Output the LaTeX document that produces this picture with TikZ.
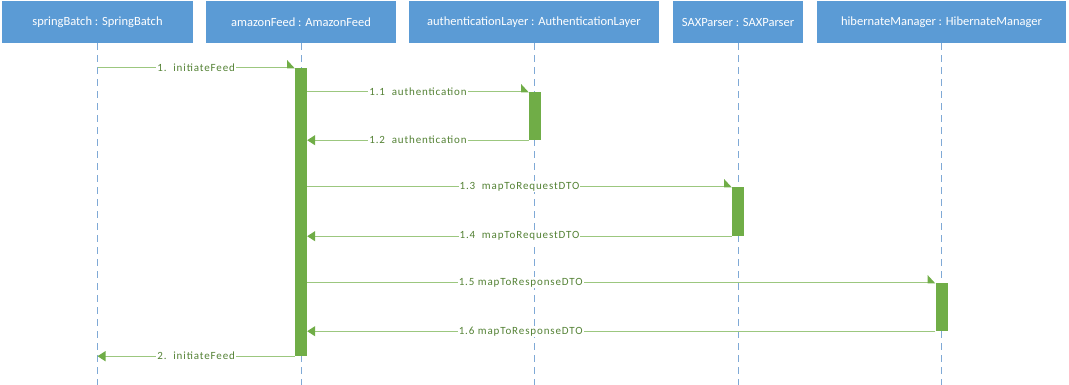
\documentclass[tikz,border=0pt]{standalone}
\usepackage{fontspec}
\setmainfont{Carlito}
\newfontfamily\msgfont[LetterSpace=8]{Carlito}
\usetikzlibrary{arrows.meta,positioning}
\definecolor{headblue}{HTML}{5B9BD5}
\definecolor{lifeblue}{HTML}{7FA9D6}
\definecolor{actgreen}{HTML}{70AD47}
\definecolor{msggreen}{HTML}{9CC77F}
\definecolor{txtgreen}{HTML}{548235}
\tikzset{
  head/.style={rectangle,fill=headblue,text=white,minimum height=42,inner sep=0pt,
    font=\fontsize{12.5}{15}\selectfont},
  lifeline/.style={draw=lifeblue,dash pattern=on 7pt off 5pt,line width=0.8pt},
  act/.style={rectangle,fill=actgreen,minimum width=12,inner sep=0pt},
  msg/.style={draw=msggreen,line width=1.2pt,
    -{Triangle[harpoon,length=7pt,width=15pt,color=actgreen]}},
  ret/.style={draw=msggreen,line width=1.2pt,
    -{Triangle[length=8pt,width=10pt,color=actgreen]}},
  lbl/.style={fill=white,text=txtgreen,inner sep=1pt,font=\msgfont\fontsize{11}{13}\selectfont}
}

\begin{document}
\begin{tikzpicture}[x=1pt,y=-1pt]
    \useasboundingbox (0,0) rectangle (1069,385);

    \node[head,minimum width=191] (springBatch) at (97.5,22) {springBatch : SpringBatch};
    \node[head,minimum width=190] (amazonFeed)  at (301,22)  {amazonFeed : AmazonFeed};
    \node[head,minimum width=250] (authLayer)   at (534,22)  {authenticationLayer : AuthenticationLayer};
    \node[head,minimum width=130] (saxParser)   at (738,22)  {SAXParser : SAXParser};
    \node[head,minimum width=249] (hibManager)  at (941.5,22) {hibernateManager : HibernateManager};
    \coordinate (bottom) at (0,385);

    \foreach \obj in {springBatch,amazonFeed,authLayer,saxParser,hibManager}
        \draw[lifeline] (\obj.south) -- (\obj.south |- bottom);

    \node[act,minimum height=288] (actFeed) at (301,212)   {};
    \node[act,minimum height=48]  (actAuth) at (535,116)   {};
    \node[act,minimum height=49]  (actSax)  at (738,211.5) {};
    \node[act,minimum height=48]  (actHib)  at (941.5,307) {};

    \path
        (springBatch.south |- actFeed.north) edge[msg] node[lbl] {1.\ \ initiateFeed} (actFeed.north west)
        (actFeed.east |- actAuth.north) edge[msg] node[lbl] {1.1\ \ authentication} (actAuth.north west)
        (actAuth.south west) edge[ret] node[lbl] {1.2\ \ authentication} (actFeed.east |- actAuth.south)
        (actFeed.east |- actSax.north) edge[msg] node[lbl] {1.3\ \ mapToRequestDTO} (actSax.north west)
        (actSax.south west) edge[ret] node[lbl] {1.4\ \ mapToRequestDTO} (actFeed.east |- actSax.south)
        (actFeed.east |- actHib.north) edge[msg] node[lbl,pos=0.34] {1.5 mapToResponseDTO} (actHib.north west)
        (actHib.south west) edge[ret] node[lbl,pos=0.66] {1.6 mapToResponseDTO} (actFeed.east |- actHib.south)
        (actFeed.south west) edge[ret] node[lbl] {2.\ \ initiateFeed} (springBatch.south |- actFeed.south)
        ;
\end{tikzpicture}
\end{document}
